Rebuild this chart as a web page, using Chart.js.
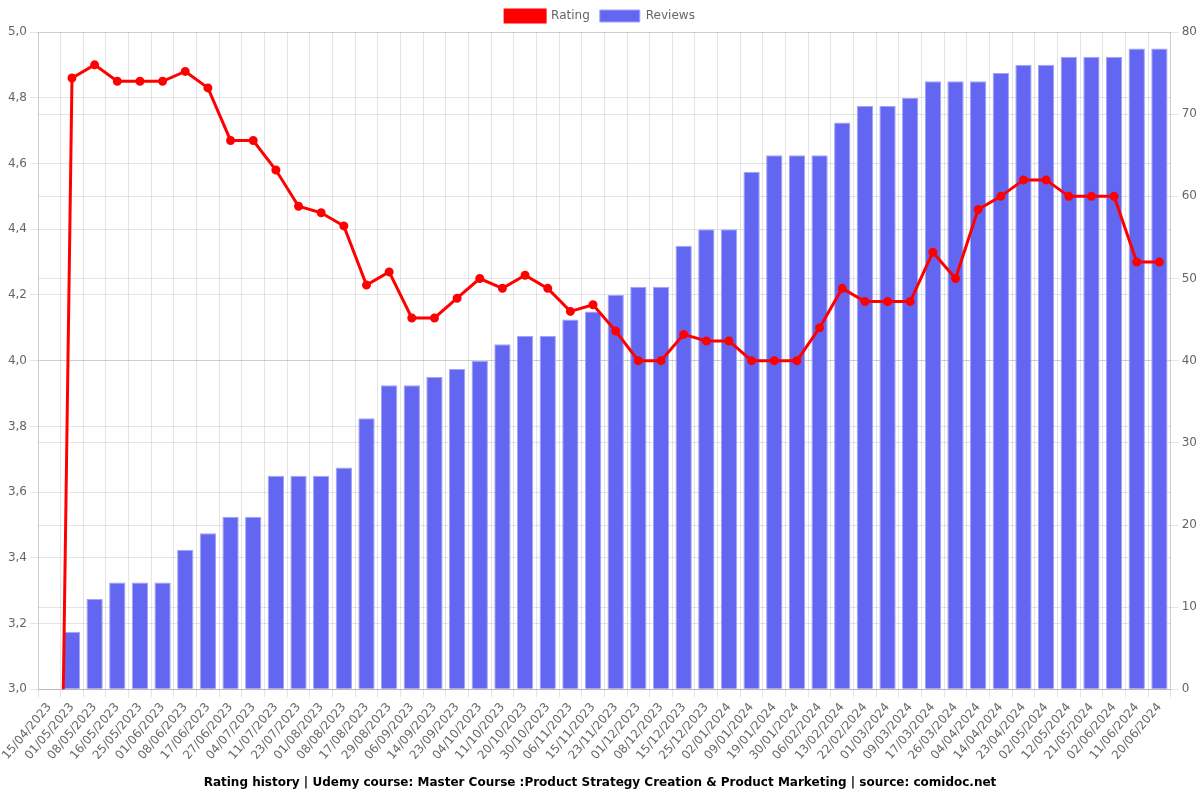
<!DOCTYPE html>
<html>
<head>
<meta charset="utf-8">
<script src="https://cdn.jsdelivr.net/npm/chart.js@4"></script>
<style>
html,body{margin:0;padding:0;background:#fff;}
#wrap{width:1200px;height:800px;position:relative;}
</style>
</head>
<body>
<div id="wrap"><canvas id="c"></canvas></div>
<script>
const categories = ["15/04/2023","01/05/2023","08/05/2023","16/05/2023","25/05/2023","01/06/2023","08/06/2023","17/06/2023","27/06/2023","04/07/2023","11/07/2023","23/07/2023","01/08/2023","08/08/2023","17/08/2023","29/08/2023","06/09/2023","14/09/2023","23/09/2023","04/10/2023","11/10/2023","20/10/2023","30/10/2023","06/11/2023","15/11/2023","23/11/2023","01/12/2023","08/12/2023","15/12/2023","25/12/2023","02/01/2024","09/01/2024","19/01/2024","30/01/2024","06/02/2024","13/02/2024","22/02/2024","01/03/2024","09/03/2024","17/03/2024","26/03/2024","04/04/2024","14/04/2024","23/04/2024","02/05/2024","12/05/2024","21/05/2024","02/06/2024","11/06/2024","20/06/2024"];
const ratingValues = [0,4.86,4.90,4.85,4.85,4.85,4.88,4.83,4.67,4.67,4.58,4.47,4.45,4.41,4.23,4.27,4.13,4.13,4.19,4.25,4.22,4.26,4.22,4.15,4.17,4.09,4.00,4.00,4.08,4.06,4.06,4.00,4.00,4.00,4.10,4.22,4.18,4.18,4.18,4.33,4.25,4.46,4.50,4.55,4.55,4.50,4.50,4.50,4.30,4.30];
const reviewValues = [0,7,11,13,13,13,17,19,21,21,26,26,26,27,33,37,37,38,39,40,42,43,43,45,46,48,49,49,54,56,56,63,65,65,65,69,71,71,72,74,74,74,75,76,76,77,77,77,78,78];
const ratingTicks = {min:3, max:5, step:0.2};
const reviewTicks = {min:0, max:80, step:10};
const titleText = "Rating history | Udemy course: Master Course :Product Strategy Creation & Product Marketing | source: comidoc.net";

Chart.defaults.font.family = "'DejaVu Sans', sans-serif";
Chart.defaults.color = '#666';

new Chart(document.getElementById('c'), {
  type: 'bar',
  data: {
    labels: categories,
    datasets: [
      {
        type: 'line',
        label: 'Rating',
        data: ratingValues,
        yAxisID: 'y',
        borderColor: 'rgb(255,0,0)',
        backgroundColor: 'rgb(255,0,0)',
        borderWidth: 3,
        pointRadius: 3,
        pointBackgroundColor: 'rgb(255,0,0)',
        pointBorderColor: 'rgb(255,0,0)',
        tension: 0
      },
      {
        type: 'bar',
        label: 'Reviews',
        data: reviewValues,
        yAxisID: 'y1',
        backgroundColor: 'rgb(99,102,241)',
        borderColor: 'rgba(160,165,250,1)',
        borderWidth: 1
      }
    ]
  },
  options: {
    responsive: true,
    maintainAspectRatio: false,
    animation: false,
    plugins: {
      legend: {
        position: 'top',
        labels: { boxWidth: 40, font: { size: 12 } }
      },
      title: {
        display: true,
        text: titleText,
        position: 'bottom',
        color: '#000',
        font: { size: 12, weight: 'bold' },
        padding: { top: 10, bottom: 10 }
      },
      tooltip: { enabled: false }
    },
    scales: {
      x: {
        grid: { offset: true, color: 'rgba(0,0,0,0.1)' },
        ticks: { autoSkip: false, font: { size: 12 } }
      },
      y: {
        position: 'left',
        min: ratingTicks.min,
        max: ratingTicks.max,
        afterFit: (axis) => { axis.width = 38; },
        ticks: { stepSize: ratingTicks.step, callback: v => v.toFixed(1).replace('.', ','), font: { size: 12 } },
        grid: { color: 'rgba(0,0,0,0.1)' }
      },
      y1: {
        position: 'right',
        min: reviewTicks.min,
        max: reviewTicks.max,
        ticks: { stepSize: reviewTicks.step, font: { size: 12 } },
        grid: { color: 'rgba(0,0,0,0.1)' }
      }
    }
  }
});
</script>
</body>
</html>
